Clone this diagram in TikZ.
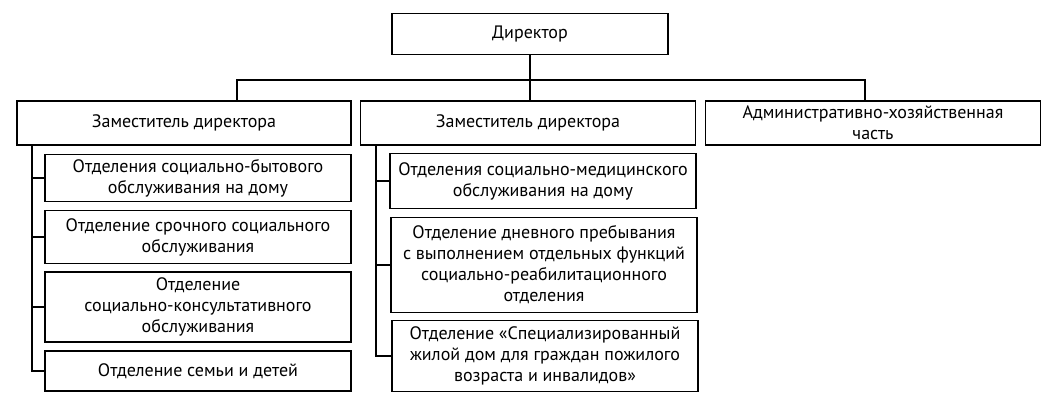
\documentclass[tikz,border=0pt]{standalone}
\usepackage{fontspec}
\setmainfont{PT Sans}
\usetikzlibrary{positioning}

\begin{document}
\begin{tikzpicture}[x=1pt,y=-1pt,
    box/.style={rectangle, draw, line width=1.6pt, inner sep=2pt, align=center, font=\fontsize{18}{21}\selectfont},
    link/.style={line width=1.6pt}
]
    \useasboundingbox (0,0) rectangle (1054,412);
    % top level
    \node[box, minimum width=276pt, minimum height=41pt] (dir) at (530,34) {Директор};
    \node[box, minimum width=334pt, minimum height=44pt] (zam1) at (184,123) {Заместитель директора};
    \node[box, minimum width=335pt, minimum height=44pt] (zam2) at (528,123) {Заместитель директора};
    \node[box, minimum width=335pt, minimum height=44pt] (adm) at (873,123) {Административно-хозяйственная\\часть};

    % first deputy
    \node[box, minimum width=306pt, minimum height=47pt] (sb) at (198,178) {Отделения социально-бытового\\обслуживания на дому};
    \node[box, minimum width=306pt, minimum height=53pt] (sr) at (198,237) {Отделение срочного социального\\обслуживания};
    \node[box, minimum width=306pt, minimum height=70pt] (sk) at (198,307) {Отделение\\социально-консультативного\\обслуживания};
    \node[box, minimum width=306pt, minimum height=40pt] (sd) at (198,371) {Отделение семьи и детей};

    % second deputy
    \node[box, minimum width=306pt, minimum height=55pt] (sm) at (543,181) {Отделения социально-медицинского\\обслуживания на дому};
    \node[box, minimum width=306pt, minimum height=95pt] (dp) at (544,265) {Отделение дневного пребывания\\с выполнением отдельных функций\\социально-реабилитационного\\отделения};
    \node[box, minimum width=306pt, minimum height=71pt] (sz) at (545,356) {Отделение «Специализированный\\жилой дом для граждан пожилого\\возраста и инвалидов»};

    \coordinate (bus) at (0,80);
    \coordinate (trunkL) at (32,0);
    \coordinate (trunkM) at (376,0);

    \draw[link] (dir) -- (dir.south |- bus);
    \draw[link] (zam1.north -| 237,0) |- (bus -| 865,0) -- (adm.north -| 865,0);
    \draw[link] (dir.south |- bus) -- (zam2.north -| dir.south);

    \draw[link] (zam1.south -| trunkL) |- (sd.west);
    \foreach \n in {sb,sr,sk} \draw[link] (\n.west -| trunkL) -- (\n.west);
    \draw[link] (zam2.south -| trunkM) |- (sz.west);
    \foreach \n in {sm,dp} \draw[link] (\n.west -| trunkM) -- (\n.west);
\end{tikzpicture}
\end{document}
